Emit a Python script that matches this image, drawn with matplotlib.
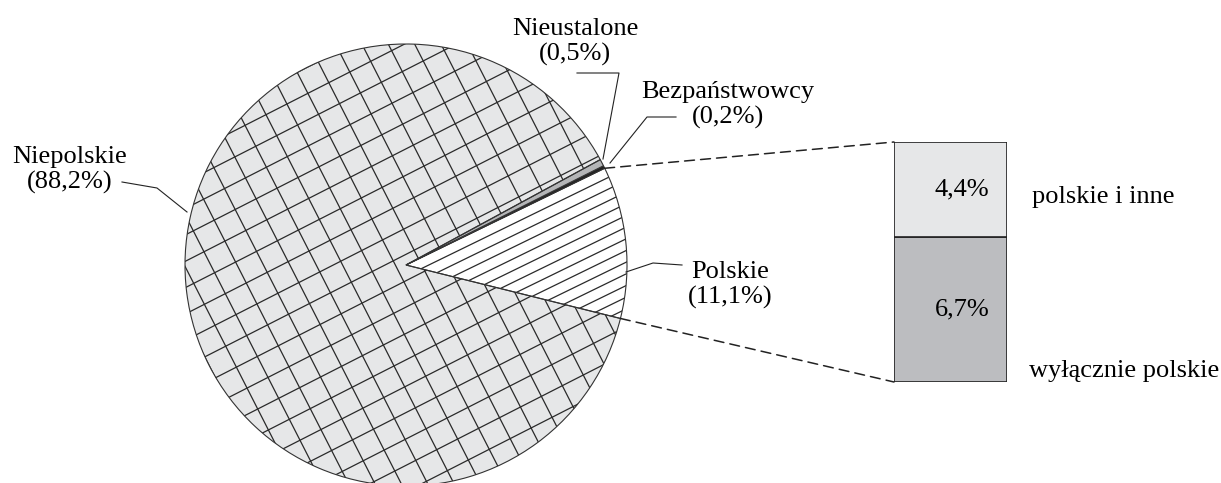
import numpy as np
import matplotlib
matplotlib.use("Agg")
import matplotlib.pyplot as plt
from matplotlib.collections import LineCollection
from matplotlib.patches import ConnectionPatch, Wedge

# dane: obywatelstwo (udzial w %)
kategorie = ["Polskie", "Bezpaństwowcy", "Nieustalone", "Niepolskie"]
udzialy = [11.1, 0.2, 0.5, 88.2]
etykiety = ["Polskie\n(11,1%)", "Bezpaństwowcy\n(0,2%)", "Nieustalone\n(0,5%)", "Niepolskie\n(88,2%)"]

# rozbicie obywatelstwa polskiego
podkategorie = ["wyłącznie polskie", "polskie i inne"]
podudzialy = [6.7, 4.4]
podetykiety = ["6,7%", "4,4%"]

plt.rcParams["font.family"] = ["Liberation Serif", "DejaVu Serif"]
ROZMIAR = 19

fig = plt.figure(figsize=(12.21, 4.83), dpi=100)
ax = fig.add_axes([0, 0, 1, 1])

srodek = (406, 265)
promien = 221
kolory = ["white", "#222222", "#b4b5b7", "#e6e7e8"]

wedges, _ = ax.pie(udzialy, colors=kolory, startangle=14, counterclock=False,
                   center=srodek, radius=promien,
                   wedgeprops=dict(edgecolor="#333333", linewidth=0.8))
ax.set_xlim(0, 1221)
ax.set_ylim(483, 0)
ax.set_aspect("auto")
ax.axis("off")


def kreskowanie(klin, kat, odstep):
    a = np.deg2rad(kat)
    u = np.array([np.cos(a), -np.sin(a)])
    n = np.array([-u[1], u[0]])
    c = np.array(srodek)
    segmenty = []
    for d in np.arange(-promien - odstep, promien + odstep, odstep):
        p = c + d * n
        segmenty.append([p - 1.2 * promien * u, p + 1.2 * promien * u])
    lc = LineCollection(segmenty, colors="#2a2a2a", linewidths=0.9, zorder=2)
    ax.add_collection(lc)
    lc.set_clip_path(klin)


kreskowanie(wedges[0], 26, 10.5)
kreskowanie(wedges[3], 27, 23.5)
kreskowanie(wedges[3], 117, 23.5)

# tlo pod kreskowaniem, obrys klinow nad nim
for w, k in zip(wedges, kolory):
    w.set_zorder(3)
    if w in (wedges[0], wedges[3]):
        w.set_facecolor("none")
    ax.add_patch(Wedge(w.center, w.r, w.theta1, w.theta2,
                       facecolor=k, edgecolor="none", zorder=0))

# etykiety i linie odniesienia
ax.text(575, 42, etykiety[2], ha="center", va="center", fontsize=ROZMIAR, linespacing=1.12)
ax.plot([577, 619, 603], [73, 73, 159], color="#222222", lw=0.8)

ax.text(728, 105, etykiety[1], ha="center", va="center", fontsize=ROZMIAR, linespacing=1.12)
ax.plot([676, 647, 610], [117, 117, 163], color="#222222", lw=0.8)

ax.text(70, 170, etykiety[3], ha="center", va="center", fontsize=ROZMIAR, linespacing=1.12)
ax.plot([122, 157, 187], [182, 188, 212], color="#222222", lw=0.8)

ax.text(730, 285, etykiety[0], ha="center", va="center", fontsize=ROZMIAR, linespacing=1.12)
ax.plot([626, 653, 682], [272, 263, 265], color="#222222", lw=0.8)

# slupek rozbicia
axb = fig.add_axes([894 / 1221, (483 - 382) / 483, 113 / 1221, 240 / 483])
kolory_b = ["#bcbdc0", "#e6e7e8"]
dol = 0
for v, k, t in zip(podudzialy, kolory_b, podetykiety):
    axb.bar(0, v, bottom=dol, width=1, color=k, edgecolor="#222222", linewidth=1.2)
    axb.text(0.1, dol + v / 2, t, ha="center", va="center", fontsize=ROZMIAR)
    dol += v
axb.set_xlim(-0.5, 0.5)
axb.set_ylim(0, sum(podudzialy))
axb.axis("off")

ax.text(1032, 197, podkategorie[1], ha="left", va="center", fontsize=ROZMIAR)
ax.text(1029, 371, podkategorie[0], ha="left", va="center", fontsize=ROZMIAR)

# linie przerywane od klina do slupka
pol = wedges[0]
for kat, y_b in [(pol.theta1, sum(podudzialy)), (pol.theta2, 0)]:
    t = np.deg2rad(kat)
    xy = (pol.center[0] + pol.r * np.cos(t), pol.center[1] + pol.r * np.sin(t))
    con = ConnectionPatch(xyA=xy, coordsA=ax.transData, xyB=(-0.5, y_b), coordsB=axb.transData,
                          color="#222222", lw=1.1, linestyle=(0, (6.5, 4)))
    fig.add_artist(con)

fig.savefig("out.png", dpi=100)
